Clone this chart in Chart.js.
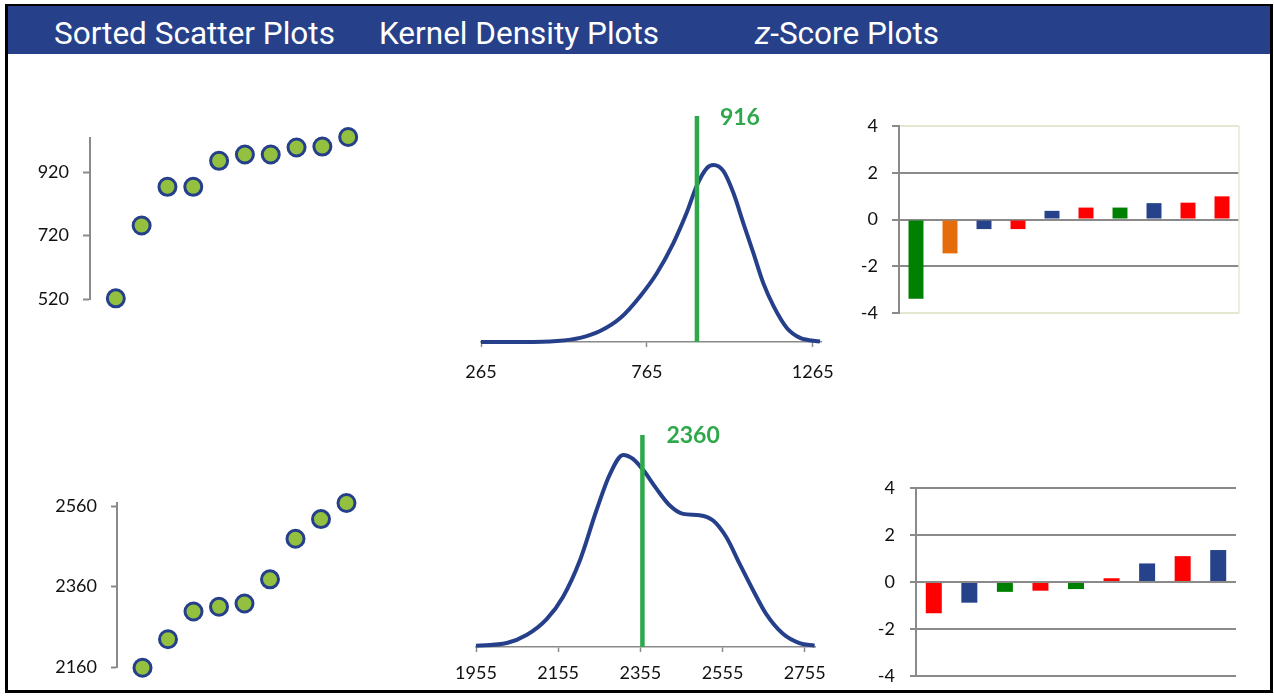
<!DOCTYPE html>
<html>
<head>
<meta charset="utf-8">
<script src="https://cdn.jsdelivr.net/npm/chart.js@4/dist/chart.umd.min.js"></script>
<style>
  html, body { margin: 0; padding: 0; background: #fff; }
  body { width: 1274px; height: 696px; position: relative; overflow: hidden; font-family: Lato, sans-serif; }
  #frame { position: absolute; left: 5px; top: 4px; width: 1268px; height: 689px; box-sizing: border-box;
           border: 3px solid #000; border-top-width: 2px; }
  #header { position: absolute; left: 8px; top: 6px; width: 1262px; height: 48px; background: #26418a; }
  .title { position: absolute; top: 11px; color: #fff; font-family: Roboto, sans-serif; font-weight: 400;
           font-size: 31.5px; line-height: 34px; white-space: nowrap; }
  canvas { position: absolute; }
</style>
</head>
<body>
<div id="frame"></div>
<div id="header">
  <span class="title" style="left:46px">Sorted Scatter Plots</span>
  <span class="title" style="left:371px">Kernel Density Plots</span>
  <span class="title" style="left:747px"><i>z</i>-Score Plots</span>
</div>

<canvas id="scatterTop" width="350" height="200" style="left:30px;top:120px"></canvas>
<canvas id="kdeTop" width="400" height="300" style="left:450px;top:95px"></canvas>
<canvas id="zTop" width="410" height="220" style="left:850px;top:110px"></canvas>

<canvas id="scatterBottom" width="350" height="200" style="left:30px;top:480px"></canvas>
<canvas id="kdeBottom" width="400" height="270" style="left:440px;top:415px"></canvas>
<canvas id="zBottom" width="400" height="220" style="left:860px;top:470px"></canvas>

<script>
// --- data ---
const scatterTopValues = [522, 752, 874, 874, 956, 976, 976, 998, 1001, 1031];
const scatterTopTicks = [520, 720, 920];
const scatterBottomValues = [2158, 2229, 2298, 2310, 2318, 2378, 2479, 2528, 2568];
const scatterBottomTicks = [2160, 2360, 2560];

// density curves (density x 1000)
const kdeTopX = [265, 393, 494, 564, 624, 685, 745, 795, 845, 885, 916, 946, 966, 996, 1026, 1056, 1086, 1116, 1147, 1187, 1227, 1287];
const kdeTopY = [0, 0, 0.02, 0.08, 0.21, 0.46, 0.88, 1.32, 1.9, 2.48, 3.01, 3.34, 3.4, 3.28, 2.86, 2.28, 1.71, 1.13, 0.69, 0.27, 0.08, 0.01];
const kdeTopTicks = [265, 765, 1265];
const kdeTopMarker = 916;

const kdeBottomX = [1955, 2030, 2078, 2127, 2167, 2208, 2248, 2281, 2313, 2337, 2362, 2394, 2426, 2459, 2499, 2532, 2564, 2597, 2629, 2661, 2702, 2742, 2779];
const kdeBottomY = [0.02, 0.06, 0.18, 0.42, 0.76, 1.31, 2.06, 2.61, 2.9, 2.84, 2.67, 2.39, 2.14, 2.01, 1.99, 1.91, 1.66, 1.25, 0.86, 0.5, 0.2, 0.06, 0.02];
const kdeBottomTicks = [1955, 2155, 2355, 2555, 2755];
const kdeBottomMarker = 2360;

const zTopValues = [-3.39, -1.45, -0.41, -0.41, 0.37, 0.51, 0.51, 0.7, 0.72, 0.99];
const zTopColors = ["green", "orange", "navy", "red", "navy", "red", "green", "navy", "red", "red"];
const zBottomValues = [-1.33, -0.88, -0.42, -0.37, -0.3, 0.16, 0.79, 1.1, 1.36];
const zBottomColors = ["red", "navy", "green", "red", "green", "red", "navy", "red", "navy"];
const zTicks = [-4, -2, 0, 2, 4];

(() => {
  const NAVY = "#253f8b";
  const AXIS = "#8a8a8a";
  const MARK_GREEN = "#2ea84a";
  const palette = { green: "#008000", orange: "#e46c0a", navy: "#26428a", red: "#ff0000" };
  const tickFont = { family: "Lato", size: 18 };

  Chart.defaults.animation = false;
  Chart.defaults.plugins.legend.display = false;
  Chart.defaults.plugins.tooltip.enabled = false;
  Chart.defaults.color = "#111";

  const fixedTicks = (list) => (scale) => {
    scale.ticks = list.map((v) => ({ value: v }));
  };

  // fixed axis size, no extra room for overhanging labels
  const fitY = (w) => (s) => {
    s.width = w;
    s.paddingTop = 0;
    s.paddingBottom = 0;
  };
  const fitX = (h) => (s) => {
    s.height = h;
    s.paddingLeft = 0;
    s.paddingRight = 0;
  };

  // green label beside the marker line
  const markerLabel = {
    id: "markerLabel",
    afterDatasetsDraw(chart, args, opts) {
      const { ctx } = chart;
      const px = chart.scales.x.getPixelForValue(opts.value);
      ctx.save();
      ctx.fillStyle = MARK_GREEN;
      ctx.font = "bold 23px Lato";
      ctx.textBaseline = "middle";
      ctx.fillText(String(opts.value), px + opts.dx, chart.chartArea.top + opts.dy);
      ctx.restore();
    },
  };

  // light right edge of the plot area
  const rightEdge = {
    id: "rightEdge",
    beforeDatasetsDraw(chart, args, opts) {
      if (!opts.color) return;
      const { ctx, chartArea: a } = chart;
      ctx.save();
      ctx.strokeStyle = opts.color;
      ctx.lineWidth = 1.5;
      ctx.beginPath();
      ctx.moveTo(a.right, a.top);
      ctx.lineTo(a.right, a.bottom);
      ctx.stroke();
      ctx.restore();
    },
  };

  function scatterChart(id, values, ticks, yMin, yMax, xMax, axisW, pad, tickLen, tickPad) {
    return new Chart(document.getElementById(id), {
      type: "scatter",
      data: {
        datasets: [
          {
            data: values.map((v, i) => ({ x: i + 1, y: v })),
            pointRadius: 8.5,
            pointBorderWidth: 3,
            pointBackgroundColor: "#93c13f",
            pointBorderColor: NAVY,
            clip: false,
          },
        ],
      },
      options: {
        responsive: false,
        layout: { padding: pad, autoPadding: false },
        scales: {
          x: { type: "linear", display: false, min: 0, max: xMax },
          y: {
            min: yMin,
            max: yMax,
            afterBuildTicks: fixedTicks(ticks),
            afterFit: fitY(axisW),
            border: { display: true, color: AXIS, width: 2 },
            grid: { drawOnChartArea: false, tickLength: tickLen, tickColor: AXIS, tickWidth: 2 },
            ticks: { font: tickFont, color: "#111", padding: tickPad, callback: (v) => String(v) },
          },
        },
      },
    });
  }

  function kdeChart(id, xs, ys, ticks, marker, xMin, xMax, yMax, pad, axisH, tickPad, labelDx, labelDy) {
    return new Chart(document.getElementById(id), {
      type: "line",
      data: {
        datasets: [
          {
            data: [{ x: marker, y: 0 }, { x: marker, y: yMax }],
            borderColor: MARK_GREEN,
            borderWidth: 4.5,
            pointRadius: 0,
          },
          {
            data: xs.map((x, i) => ({ x, y: ys[i] })),
            borderColor: NAVY,
            borderWidth: 4,
            pointRadius: 0,
            cubicInterpolationMode: "monotone",
            clip: false,
          },
        ],
      },
      options: {
        responsive: false,
        layout: { padding: pad, autoPadding: false },
        plugins: { markerLabel: { value: marker, dx: labelDx, dy: labelDy } },
        scales: {
          x: {
            type: "linear",
            min: xMin,
            max: xMax,
            afterBuildTicks: fixedTicks(ticks),
            afterFit: fitX(axisH),
            border: { display: true, color: AXIS, width: 1.5 },
            grid: { drawOnChartArea: false, tickLength: 5, tickColor: AXIS, tickWidth: 1.5 },
            ticks: { font: tickFont, color: "#111", padding: tickPad, maxRotation: 0, callback: (v) => String(v) },
          },
          y: { display: false, min: 0, max: yMax },
        },
      },
      plugins: [markerLabel],
    });
  }

  function zChart(id, values, colors, axisW, pad, tickLen, tickPad, edgeColor, barPct) {
    const light = edgeColor;
    return new Chart(document.getElementById(id), {
      type: "bar",
      data: {
        labels: values.map((_, i) => i + 1),
        datasets: [
          {
            data: values,
            backgroundColor: colors.map((c) => palette[c]),
            barPercentage: barPct,
            categoryPercentage: 1,
          },
        ],
      },
      options: {
        responsive: false,
        layout: { padding: pad, autoPadding: false },
        plugins: { rightEdge: { color: light } },
        scales: {
          x: { display: false },
          y: {
            min: -4,
            max: 4,
            afterBuildTicks: fixedTicks(zTicks),
            afterFit: fitY(axisW),
            border: { display: true, color: AXIS, width: 2 },
            grid: {
              color: (ctx) => (light && Math.abs(ctx.tick.value) === 4 ? light : AXIS),
              lineWidth: 2,
              tickLength: tickLen,
              tickColor: AXIS,
              tickWidth: 2,
            },
            ticks: { font: tickFont, color: "#111", padding: tickPad },
          },
        },
      },
      plugins: [rightEdge],
    });
  }

  scatterChart("scatterTop", scatterTopValues, scatterTopTicks, 520, 1028, 11, 60,
    { left: 0, top: 18, right: 6, bottom: 21 }, 7, 14);
  scatterChart("scatterBottom", scatterBottomValues, scatterBottomTicks, 2160, 2568, 10, 87,
    { left: 0, top: 23, right: 8, bottom: 13 }, 6, 14);

  kdeChart("kdeTop", kdeTopX, kdeTopY, kdeTopTicks, kdeTopMarker, 265, 1290, 4.34,
    { left: 31, top: 21, right: 29, bottom: 8 }, 45, 14, 23, 2);
  kdeChart("kdeBottom", kdeBottomX, kdeBottomY, kdeBottomTicks, kdeBottomMarker, 1955, 2780, 3.2,
    { left: 36, top: 20, right: 25, bottom: 6 }, 32, 10, 24, 1);

  zChart("zTop", zTopValues, zTopColors, 49, { left: 0, top: 16, right: 21, bottom: 17 }, 7, 14, "#e4e8d0", 0.44);
  zChart("zBottom", zBottomValues, zBottomColors, 56, { left: 0, top: 18, right: 24, bottom: 14 }, 6, 15, null, 0.45);
})();
</script>
</body>
</html>
